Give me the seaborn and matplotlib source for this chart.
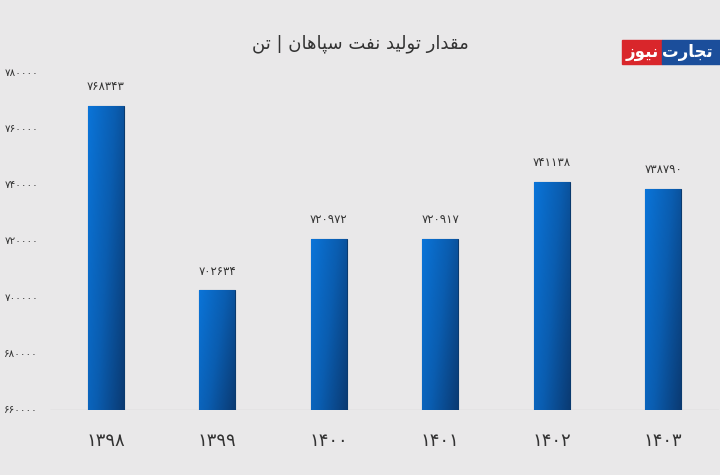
import matplotlib as mpl
mpl.use("Agg")
import matplotlib.pyplot as plt
from matplotlib.colors import LinearSegmentedColormap
from matplotlib.patches import Rectangle
import numpy as np
import pandas as pd
import seaborn as sns

YEARS = ["1398", "1399", "1400", "1401", "1402", "1403"]
PRODUCTION = [768343, 702634, 720972, 720917, 741138, 738790]
Y_TICKS = [660000, 680000, 700000, 720000, 740000, 760000, 780000]
TITLE = "مقدار تولید نفت سپاهان | تن"

BG = "#E9E8E9"
INK = "#333333"

# tiny Arabic-script shaper: (isolated, final, initial, medial) or (isolated, final)
FORMS = {
    "ا": (0xFE8D, 0xFE8E), "د": (0xFEA9, 0xFEAA), "ر": (0xFEAD, 0xFEAE),
    "ز": (0xFEAF, 0xFEB0), "و": (0xFEED, 0xFEEE),
    "ت": (0xFE95, 0xFE96, 0xFE97, 0xFE98), "ج": (0xFE9D, 0xFE9E, 0xFE9F, 0xFEA0),
    "س": (0xFEB1, 0xFEB2, 0xFEB3, 0xFEB4), "ف": (0xFED1, 0xFED2, 0xFED3, 0xFED4),
    "ق": (0xFED5, 0xFED6, 0xFED7, 0xFED8), "ل": (0xFEDD, 0xFEDE, 0xFEDF, 0xFEE0),
    "م": (0xFEE1, 0xFEE2, 0xFEE3, 0xFEE4), "ن": (0xFEE5, 0xFEE6, 0xFEE7, 0xFEE8),
    "ه": (0xFEE9, 0xFEEA, 0xFEEB, 0xFEEC), "ی": (0xFBFC, 0xFBFD, 0xFEF3, 0xFEF4),
    "پ": (0xFB56, 0xFB57, 0xFB58, 0xFB59),
}


def shape(text):
    out = []
    for i, ch in enumerate(text):
        if ch not in FORMS:
            out.append(ch)
            continue
        prev = text[i - 1] if i > 0 else ""
        nxt = text[i + 1] if i + 1 < len(text) else ""
        jp = prev in FORMS and len(FORMS[prev]) == 4
        jn = len(FORMS[ch]) == 4 and nxt in FORMS
        f = FORMS[ch]
        if jp and jn:
            code = f[3]
        elif jn:
            code = f[2]
        elif jp:
            code = f[1]
        else:
            code = f[0]
        out.append(chr(code))
    return "".join(reversed(out))


def fa_digits(v):
    return str(v).translate(str.maketrans("0123456789", "۰۱۲۳۴۵۶۷۸۹"))


sns.set_style("white")
plt.rcParams["font.family"] = ["DejaVu Sans"]

df = pd.DataFrame({"year": YEARS, "value": PRODUCTION})

fig = plt.figure(figsize=(7.2, 4.75), dpi=100, facecolor=BG)
ax = fig.add_axes([50 / 720, 1 - 410 / 475, 669 / 720, 337 / 475])
ax.set_facecolor(BG)
sns.barplot(data=df, x="year", y="value", ax=ax, width=0.32, color="#0B5FB5",
            edgecolor="#0A3A6E", linewidth=0.8)

cmap = LinearSegmentedColormap.from_list("bar", ["#0A74D8", "#0A5DB0", "#0A3B74"])
grad = np.add.outer(np.linspace(0, 0.35, 50), np.linspace(0, 0.65, 50))
for p in ax.patches:
    x0, w = p.get_x(), p.get_width()
    top = p.get_y() + p.get_height()
    im = ax.imshow(grad, cmap=cmap, extent=(x0, x0 + w, 660000, top), aspect="auto",
                   origin="upper", zorder=p.get_zorder() + 0.1, vmin=0, vmax=1)
    im.set_clip_path(p)
    ax.text(x0 + w / 2, top + 4500, fa_digits(int(top)), ha="center", va="bottom",
            fontsize=8.5, color=INK)
ax.set_xlim(-0.5, 5.5)
ax.set_ylim(660000, 780000)

for s in ax.spines.values():
    s.set_visible(False)
ax.axhline(660000, color="#D4D3D4", lw=1, zorder=0)
ax.set_yticks(Y_TICKS)
ax.set_yticklabels([])
ax.tick_params(length=0)
ax.set_xticks(range(len(YEARS)))
ax.set_xticklabels([fa_digits(y) for y in YEARS], fontsize=13, color=INK)
ax.tick_params(axis="x", pad=16)
ax.set_xlabel("")
ax.set_ylabel("")
for t in Y_TICKS:
    ax.text(-12 / 669, t, fa_digits(t), transform=ax.get_yaxis_transform(),
            ha="right", va="center", fontsize=7.5, color=INK, clip_on=False)

fig.text(0.5, 1 - 44 / 475, shape(TITLE), ha="center", va="center", fontsize=13, color=INK)

# logo in the top right corner
fig.patches.append(Rectangle((622 / 720, 1 - 64 / 475), 40 / 720, 24 / 475,
                             transform=fig.transFigure, color="#D9262B"))
fig.patches.append(Rectangle((662 / 720, 1 - 64 / 475), 60 / 720, 24 / 475,
                             transform=fig.transFigure, color="#1B4E9B"))
fig.text(642 / 720, 1 - 52 / 475, shape("نیوز"), ha="center", va="center",
         fontsize=12, color="white", fontweight="bold")
fig.text(662 / 720, 1 - 52 / 475, shape("تجارت"), ha="left", va="center",
         fontsize=12, color="white", fontweight="bold")

fig.savefig("out.png", dpi=100, facecolor=BG)
